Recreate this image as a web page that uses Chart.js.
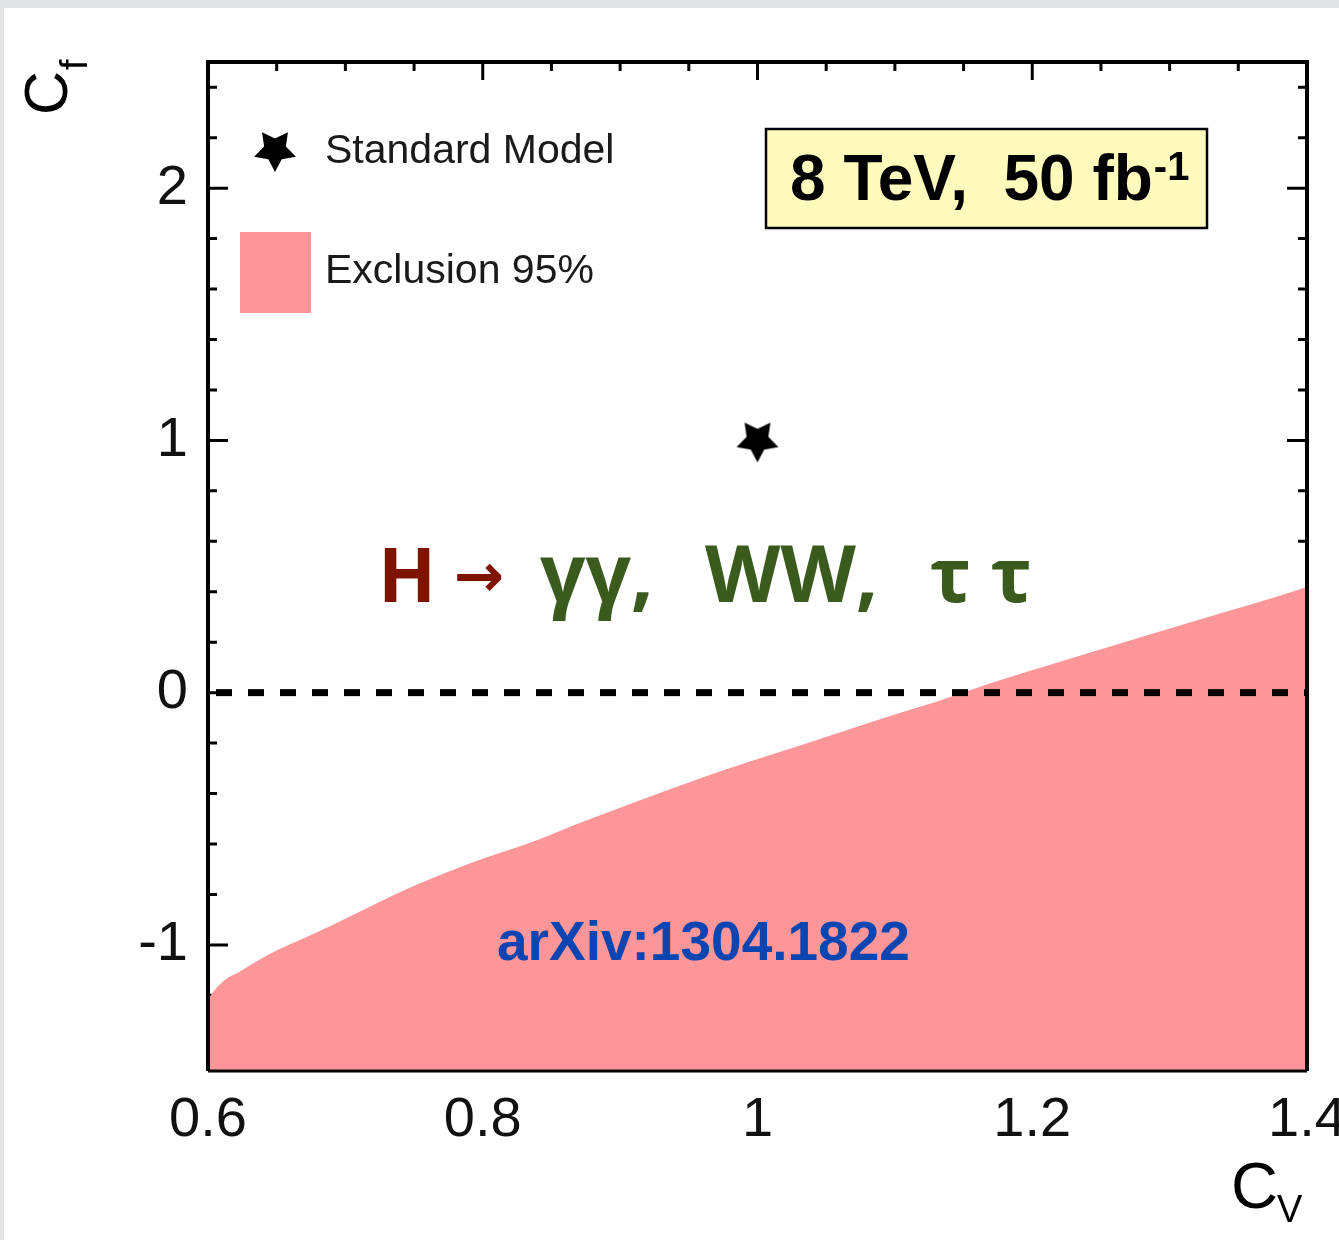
<!DOCTYPE html>
<html>
<head>
<meta charset="utf-8">
<title>Cf vs CV exclusion</title>
<script src="https://cdn.jsdelivr.net/npm/chart.js@4"></script>
<style>
  html, body { margin: 0; padding: 0; background: #e3e4e6; }
  #wrap { position: absolute; left: 4px; top: 8px; width: 1335px; height: 1232px; background: #fff; }
  canvas { display: block; }
</style>
</head>
<body>
<div id="wrap"><canvas id="cfCanvas" width="1335" height="1232"></canvas></div>
<script>
// axis ranges and tick labels
var xRange = [0.6, 1.4];
var yRange = [-1.5, 2.5];
var xTicks = [0.6, 0.8, 1, 1.2, 1.4];
var xTickLabels = ['0.6', '0.8', '1', '1.2', '1.4'];
var yTicks = [-1, 0, 1, 2];
var yTickLabels = ['-1', '0', '1', '2'];

// upper edge of the 95% excluded region
var exclCV = [0.600, 0.602, 0.612, 0.622, 0.634, 0.647, 0.663, 0.691, 0.740, 0.789, 0.837, 0.869,
              0.958, 1.031, 1.104, 1.128, 1.177, 1.249, 1.322, 1.395, 1.400];
var exclCf = [-1.22, -1.20, -1.14, -1.11, -1.07, -1.03, -0.99, -0.92, -0.79, -0.68, -0.59, -0.52,
              -0.34, -0.21, -0.08, -0.04, 0.05, 0.17, 0.29, 0.41, 0.42];

// Standard Model point
var smCV = [1];
var smCf = [1];

// Cf = 0 reference line
var zeroCV = [0.6, 1.4];
var zeroCf = [0, 0];

var FONT = "'Liberation Sans', Arial, Helvetica, sans-serif";
var PINK = '#fd9698';

function pts(xs, ys) {
	var out = [];
	for (var i = 0; i < xs.length; i++) out.push({ x: xs[i], y: ys[i] });
	return out;
}

// filled five-point star, one tip pointing down
function makeStar(r) {
	var c = document.createElement('canvas');
	c.width = c.height = 2 * r + 4;
	var g = c.getContext('2d');
	g.translate(r + 2, r + 2);
	g.beginPath();
	for (var i = 0; i < 10; i++) {
		var rad = (i % 2) ? r * 0.52 : r;
		var a = Math.PI + i * Math.PI / 5;
		g.lineTo(rad * Math.sin(a), -rad * Math.cos(a));
	}
	g.closePath();
	g.fillStyle = '#000';
	g.fill();
	return c;
}
var star = makeStar(22);

// inward ticks on all four sides plus the frame
var frame = {
	id: 'frame',
	beforeDatasetsDraw: function (chart) {
		var ctx = chart.ctx, a = chart.chartArea, x = chart.scales.x, y = chart.scales.y;
		ctx.save();
		ctx.strokeStyle = '#000';
		ctx.lineWidth = 3;
		ctx.beginPath();
		for (var k = 1; k < 16; k++) {
			var px = x.getPixelForValue(0.6 + k * 0.05);
			var len = (k % 4 === 0) ? 18 : 9;
			ctx.moveTo(px, a.top); ctx.lineTo(px, a.top + len);
			ctx.moveTo(px, a.bottom); ctx.lineTo(px, a.bottom - len);
		}
		for (var j = 0; j < 20; j++) {
			var v = -1.4 + j * 0.2;
			var py = y.getPixelForValue(v);
			var l2 = (Math.abs(v - Math.round(v)) < 1e-6) ? 20 : 9;
			ctx.moveTo(a.left, py); ctx.lineTo(a.left + l2, py);
			ctx.moveTo(a.right, py); ctx.lineTo(a.right - l2, py);
		}
		ctx.stroke();
		ctx.restore();
	},
	afterDatasetsDraw: function (chart) {
		var ctx = chart.ctx, a = chart.chartArea;
		ctx.save();
		ctx.strokeStyle = '#000';
		ctx.lineWidth = 4;
		ctx.beginPath();
		ctx.moveTo(a.left, a.bottom); ctx.lineTo(a.left, a.top); ctx.lineTo(a.right, a.top); ctx.lineTo(a.right, a.bottom);
		ctx.stroke();
		ctx.lineWidth = 3;
		ctx.beginPath();
		ctx.moveTo(a.left, a.bottom); ctx.lineTo(a.right, a.bottom);
		ctx.stroke();
		ctx.restore();
	},
	afterDraw: function (chart) {
		var ctx = chart.ctx, a = chart.chartArea;
		var L = a.left, T = a.top;
		ctx.save();
		ctx.textBaseline = 'alphabetic';
		ctx.textAlign = 'left';

		// legend
		ctx.drawImage(star, L + 67 - star.width / 2, T + 88 - star.height / 2);
		ctx.fillStyle = '#1a1a1a';
		ctx.font = '41px ' + FONT;
		ctx.fillText('Standard Model', L + 117, T + 101);
		ctx.fillStyle = PINK;
		ctx.fillRect(L + 32, T + 170, 71, 81);
		ctx.fillStyle = '#1a1a1a';
		ctx.fillText('Exclusion 95%', L + 117, T + 221);

		// energy / luminosity box
		ctx.fillStyle = '#fffbbd';
		ctx.fillRect(L + 558, T + 67, 441, 99);
		ctx.strokeStyle = '#000';
		ctx.lineWidth = 2.5;
		ctx.strokeRect(L + 558, T + 67, 441, 99);
		ctx.fillStyle = '#000';
		ctx.font = 'bold 64px ' + FONT;
		var main = '8 TeV,  50 fb';
		ctx.fillText(main, L + 582, T + 138);
		var w = ctx.measureText(main).width;
		ctx.font = 'bold 40px ' + FONT;
		ctx.fillText('-1', L + 582 + w + 1, T + 118);

		// decay channels
		var hy = T + 540;
		ctx.font = 'bold 76px "Open Sans", "Noto Sans", sans-serif';
		ctx.fillStyle = '#7e1400';
		ctx.fillText('H', L + 170, hy);
		ctx.font = 'bold 60px "DejaVu Sans", sans-serif';
		ctx.fillText('\u2192', L + 246, hy - 6);
		ctx.fillStyle = '#3b5b1e';
		ctx.font = 'bold 80px "Open Sans", "Noto Sans", sans-serif';
		ctx.fillText('\u03b3\u03b3,', L + 332, hy);
		ctx.font = 'bold 78px "Open Sans", "Noto Sans", sans-serif';
		ctx.fillText('WW,', L + 497, hy);
		ctx.font = 'bold 76px "Open Sans", "Noto Sans", sans-serif';
		ctx.fillText('\u03c4 \u03c4', L + 722, hy);

		// reference
		ctx.fillStyle = '#0b45b2';
		ctx.font = 'bold 55px ' + FONT;
		ctx.fillText('arXiv:1304.1822', L + 289, T + 898);

		// axis titles
		ctx.fillStyle = '#000';
		ctx.save();
		ctx.translate(63, 107);
		ctx.rotate(-Math.PI / 2);
		ctx.font = '61px ' + FONT;
		ctx.fillText('C', 0, 0);
		var cw = ctx.measureText('C').width;
		ctx.font = '38px ' + FONT;
		ctx.fillText('f', cw + 1, 20);
		ctx.restore();

		ctx.font = '65px ' + FONT;
		ctx.fillText('C', 1227, 1200);
		var cw2 = ctx.measureText('C').width;
		ctx.font = '38px ' + FONT;
		ctx.fillText('V', 1227 + cw2 - 1, 1214);
		ctx.restore();
	}
};

function noPad(s) {
	s.paddingLeft = 0; s.paddingRight = 0; s.paddingTop = 0; s.paddingBottom = 0;
}

var ctx = document.getElementById('cfCanvas').getContext('2d');
var chart = new Chart(ctx, {
	type: 'line',
	data: {
		datasets: [
			{
				label: 'Cf = 0',
				data: pts(zeroCV, zeroCf),
				borderColor: '#000',
				borderWidth: 7,
				borderDash: [16, 16],
				borderDashOffset: 24,
				pointRadius: 0,
				fill: false,
			},
			{
				label: 'Standard Model',
				data: pts(smCV, smCf),
				showLine: false,
				pointStyle: star,
				pointRadius: 22,
			},
			{
				label: 'Exclusion 95%',
				data: pts(exclCV, exclCf),
				borderWidth: 0,
				borderColor: PINK,
				backgroundColor: PINK,
				pointRadius: 0,
				cubicInterpolationMode: 'monotone',
				fill: 'start',
			},
		],
	},
	options: {
		responsive: false,
		animation: false,
		layout: { padding: { left: 0, top: 54, right: 32, bottom: 0 } },
		plugins: { legend: { display: false }, tooltip: { enabled: false } },
		scales: {
			x: {
				type: 'linear',
				min: xRange[0],
				max: xRange[1],
				grid: { display: false, drawTicks: false },
				border: { display: false },
				afterBuildTicks: function (s) { s.ticks = xTicks.map(function (v) { return { value: v }; }); },
				afterFit: function (s) { s.height = 169; noPad(s); },
				ticks: {
					autoSkip: false,
					maxRotation: 0,
					padding: 16,
					color: '#111',
					font: { family: FONT, size: 56 },
					callback: function (v) { return xTickLabels[xTicks.indexOf(v)]; },
				},
			},
			y: {
				type: 'linear',
				min: yRange[0],
				max: yRange[1],
				grid: { display: false, drawTicks: false },
				border: { display: false },
				afterBuildTicks: function (s) { s.ticks = yTicks.map(function (v) { return { value: v }; }); },
				afterFit: function (s) { s.width = 204; noPad(s); },
				ticks: {
					autoSkip: false,
					padding: 20,
					color: '#111',
					font: { family: FONT, size: 56 },
					callback: function (v) { return yTickLabels[yTicks.indexOf(v)]; },
				},
			},
		},
	},
	plugins: [frame],
});
</script>
</body>
</html>
